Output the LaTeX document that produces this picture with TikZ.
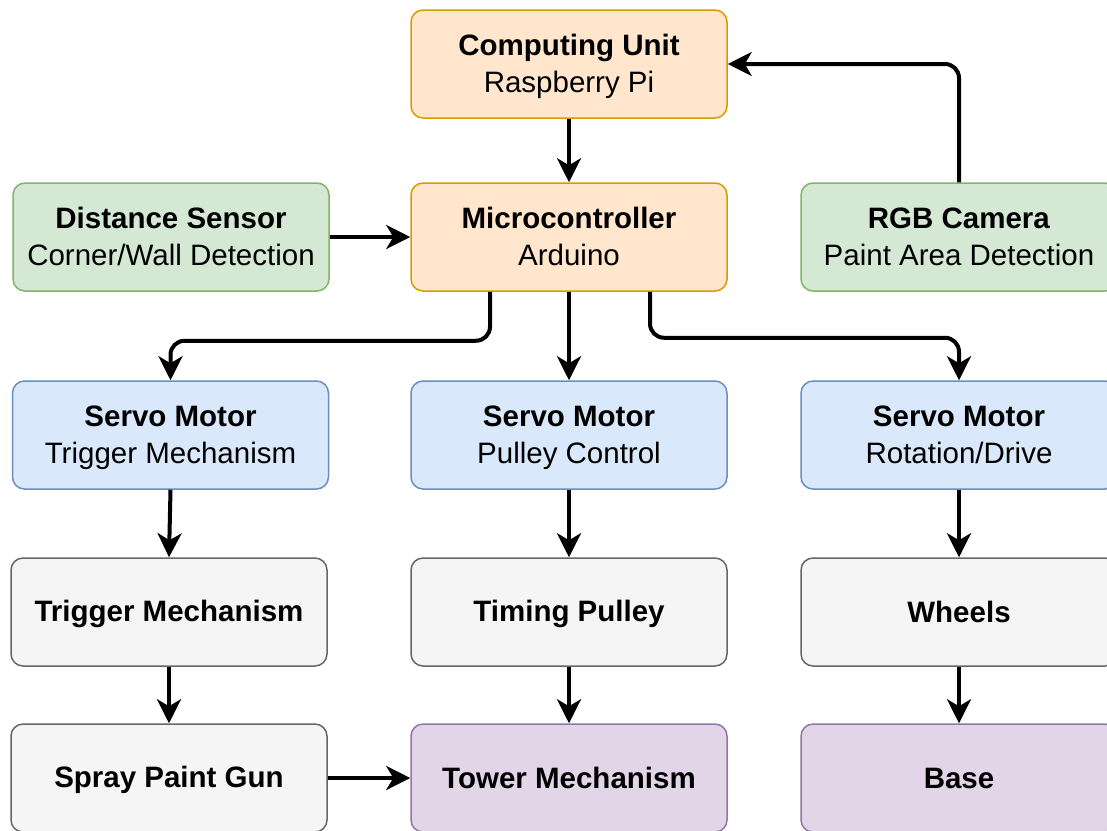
\documentclass[tikz,border=0pt]{standalone}
\usepackage{fontspec}
\setmainfont{Liberation Sans}
\usetikzlibrary{arrows.meta}
\definecolor{orfill}{HTML}{FFE6CC}\definecolor{ordraw}{HTML}{D79B00}
\definecolor{grfill}{HTML}{D5E8D4}\definecolor{grdraw}{HTML}{82B366}
\definecolor{blfill}{HTML}{DAE8FC}\definecolor{bldraw}{HTML}{6C8EBF}
\definecolor{gyfill}{HTML}{F5F5F5}\definecolor{gydraw}{HTML}{666666}
\definecolor{pufill}{HTML}{E1D5E7}\definecolor{pudraw}{HTML}{9673A6}
\newcommand\mystrut{\rule[-5.4pt]{0pt}{31.4pt}}
\newcommand\tl[2]{\mystrut\textbf{#1}\\\mystrut #2}
\newcommand\ol[1]{\mystrut\textbf{#1}}
\tikzset{
  box/.style={rectangle, rounded corners=12pt, minimum width=316pt, minimum height=108pt,
    inner sep=0pt, line width=1.5pt, align=center, text=black,
    font=\fontsize{29.5}{37}\selectfont},
  orbox/.style={box, fill=orfill, draw=ordraw},
  grbox/.style={box, fill=grfill, draw=grdraw},
  blbox/.style={box, fill=blfill, draw=bldraw},
  gybox/.style={box, fill=gyfill, draw=gydraw},
  pubox/.style={box, fill=pufill, draw=pudraw},
  conn/.style={line width=4pt, draw=black, rounded corners=14pt,
    -{Stealth[length=24pt,width=24pt,inset=7pt]}},
}
\begin{document}
\begin{tikzpicture}[x=1pt,y=-1pt]
\useasboundingbox (0,0) rectangle (1107,830);
\clip (0,0) rectangle (1107,830);
% row 0
\node[orbox] (cu) at (569,64) {\tl{Computing Unit}{Raspberry Pi}};
% row 1
\node[grbox] (ds) at (171,237) {\tl{Distance Sensor}{Corner/Wall Detection}};
\node[orbox] (mc) at (569,237) {\tl{Microcontroller}{Arduino}};
\node[grbox] (rgb) at (959,237) {\tl{RGB Camera}{Paint Area Detection}};
% row 2
\node[blbox] (s1) at (170.5,435) {\tl{Servo Motor}{Trigger Mechanism}};
\node[blbox] (s2) at (569,435) {\tl{Servo Motor}{Pulley Control}};
\node[blbox] (s3) at (959,435) {\tl{Servo Motor}{Rotation/Drive}};
% row 3
\node[gybox] (tm) at (169,612) {\ol{Trigger Mechanism}};
\node[gybox] (tp) at (569,612) {\ol{Timing Pulley}};
\node[gybox] (wh) at (959,612) {\ol{Wheels}};
% row 4
\node[gybox] (sg) at (169,778) {\ol{Spray Paint Gun}};
\node[pubox] (tw) at (569,778) {\ol{Tower Mechanism}};
\node[pubox] (ba) at (959,778) {\ol{Base}};
% connectors
\draw[conn] (cu) -- (mc);
\draw[conn] (ds) -- (mc);
\draw[conn] (rgb.north) |- (cu.east);
\draw[conn] ([xshift=-79pt]mc.south) -- ++(0,49) -| (s1.north);
\draw[conn] (mc) -- (s2);
\draw[conn] ([xshift=81pt]mc.south) -- ++(0,46) -| (s3.north);
\draw[conn] (s1.south) -- (tm.north);
\draw[conn] (tm) -- (sg);
\draw[conn] (sg) -- (tw);
\draw[conn] (s2) -- (tp);
\draw[conn] (tp) -- (tw);
\draw[conn] (s3) -- (wh);
\draw[conn] (wh) -- (ba);
\end{tikzpicture}
\end{document}
